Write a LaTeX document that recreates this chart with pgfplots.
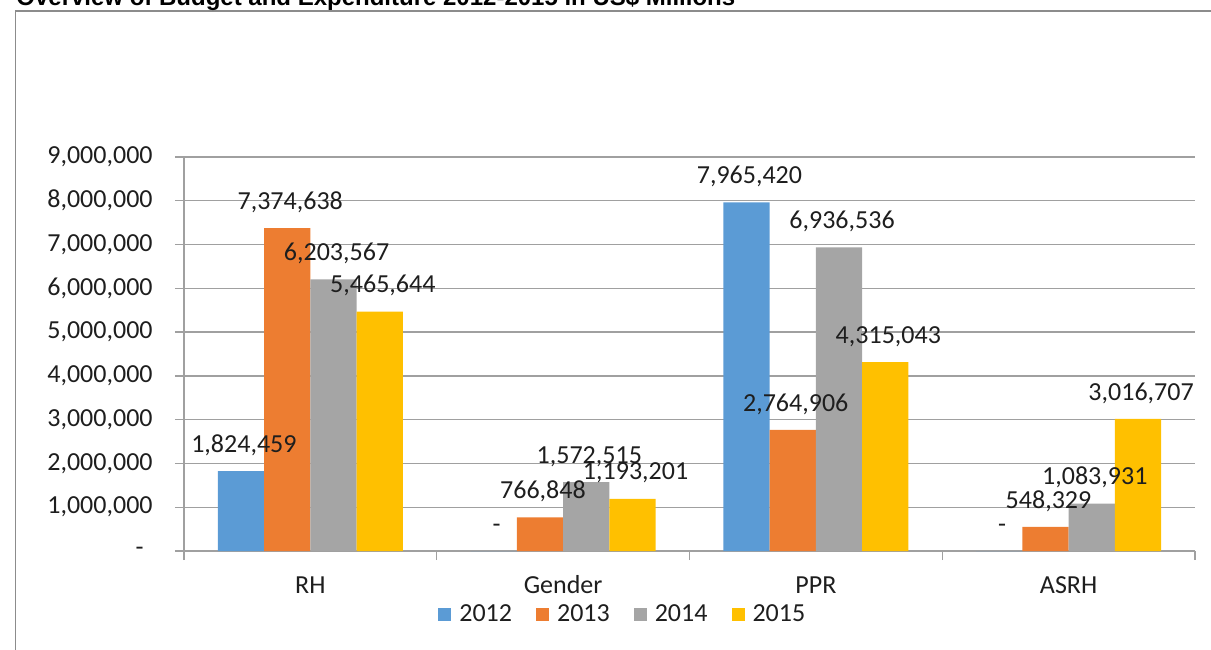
\documentclass[border=0pt]{standalone}
\usepackage{pgfplots}
\pgfplotsset{compat=1.18}
\usepackage{pgfplotstable}
\usepackage{fontspec}
\setmainfont{Carlito}
\newfontfamily\arialfont{Liberation Sans}
\definecolor{c12}{HTML}{5B9BD5}
\definecolor{c13}{HTML}{ED7D31}
\definecolor{c14}{HTML}{A5A5A5}
\definecolor{c15}{HTML}{FFC000}
\definecolor{gridc}{HTML}{A0A0A0}
\definecolor{framec}{HTML}{8C8C8C}
\definecolor{txt}{HTML}{1E1E1E}
\pgfplotstableread{
x y lab
0 1824459 1,824,459
1 0 -
2 7965420 7,965,420
3 0 -
}\tA
\pgfplotstableread{
x y lab
0 7374638 7,374,638
1 766848 766,848
2 2764906 2,764,906
3 548329 548,329
}\tB
\pgfplotstableread{
x y lab
0 6203567 6,203,567
1 1572515 1,572,515
2 6936536 6,936,536
3 1083931 1,083,931
}\tC
\pgfplotstableread{
x y lab
0 5465644 5,465,644
1 1193201 1,193,201
2 4315043 4,315,043
3 3016707 3,016,707
}\tD
\begin{document}
\begin{tikzpicture}
\useasboundingbox (0,0) rectangle (605.5pt,324.5pt);
\clip (0,0) rectangle (605.5pt,324.5pt);
\draw[framec, line width=0.6pt] (7.9pt,-2pt) -- (7.9pt,319pt) -- (610pt,319pt);
\node[anchor=base west, inner sep=0pt, font=\arialfont\bfseries\fontsize{12}{14}\selectfont] at (8pt,321.5pt) {Overview of Budget and Expenditure 2012-2015 in US\$ Millions};
\begin{axis}[
  at={(92pt,49pt)}, anchor=south west,
  scale only axis, width=505.5pt, height=197pt,
  ybar=0pt, bar width=23.15pt,
  xmin=-0.5, xmax=3.5, ymin=0, ymax=9000000,
  scaled y ticks=false,
  xtick={-0.5,0.5,1.5,2.5,3.5}, xticklabels={,,,,,},
  extra x ticks={0,1,2,3}, extra x tick labels={RH,Gender,PPR,ASRH},
  extra x tick style={major tick length=0pt, tick label style={anchor=base, yshift=-21pt, inner sep=0pt}},
  ytick={0,1000000,2000000,3000000,4000000,5000000,6000000,7000000,8000000,9000000},
  yticklabels={{\makebox[8.5pt][l]{-}},{1,000,000},{2,000,000},{3,000,000},{4,000,000},{5,000,000},{6,000,000},{7,000,000},{8,000,000},{9,000,000}},
  yticklabel style={anchor=east, inner sep=0pt, xshift=-11pt},
  ymajorgrids, major grid style={gridc, line width=0.7pt},
  axis x line*=bottom, axis y line*=left,
  axis line style={gridc, line width=0.7pt},
  tick style={gridc, line width=0.7pt},
  tick align=outside, major tick length=4.5pt,
  ticklabel style={font=\fontsize{13}{15}\selectfont, text=txt},
  nodes near coords, point meta=explicit symbolic,
  every node near coord/.append style={anchor=base, yshift=9.4pt, xshift=1.5pt, inner sep=0pt, font=\fontsize{13}{15}\selectfont, text=txt},
  legend columns=4,
  legend style={at={(0.437,-0.1624)}, anchor=center, draw=none, fill=none, font=\fontsize{13}{15}\selectfont, text=txt, nodes={inner xsep=4pt, inner ysep=1.5pt}, /tikz/every even column/.append style={column sep=8pt}},
  legend image code/.code={\fill[#1] (0pt,-3.25pt) rectangle (6.5pt,3.25pt);},
]
\addplot[fill=c12, draw=none] table[x=x,y=y,meta=lab]{\tA};
\addplot[fill=c13, draw=none] table[x=x,y=y,meta=lab]{\tB};
\addplot[fill=c14, draw=none] table[x=x,y=y,meta=lab]{\tC};
\addplot[fill=c15, draw=none] table[x=x,y=y,meta=lab]{\tD};
\legend{2012,2013,2014,2015}
\end{axis}
\end{tikzpicture}
\end{document}
